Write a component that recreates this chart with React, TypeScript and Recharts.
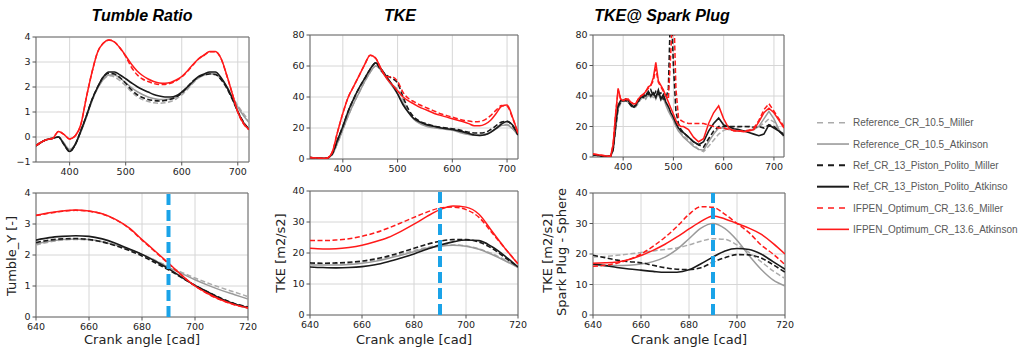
import React from "react";
import {
  CartesianGrid,
  Line,
  LineChart,
  ReferenceArea,
  ReferenceLine,
  XAxis,
  YAxis,
} from "recharts";

// series, in legend order
const SERIES = [
  { key: "a", name: "Reference_CR_10.5_Miller", color: "#ababab", dash: true, width: 1.5 },
  { key: "b", name: "Reference_CR_10.5_Atkinson", color: "#9a9a9a", dash: false, width: 1.5 },
  { key: "c", name: "Ref_CR_13_Piston_Polito_Miller", color: "#1a1a1a", dash: true, width: 1.6 },
  { key: "d", name: "Ref_CR_13_Piston_Polito_Atkinso", color: "#1a1a1a", dash: false, width: 1.6 },
  { key: "e", name: "IFPEN_Optimum_CR_13.6_Miller", color: "#ff1a1a", dash: true, width: 1.5 },
  { key: "f", name: "IFPEN_Optimum_CR_13.6_Atkinson", color: "#ff1a1a", dash: false, width: 1.5 },
];

// full cycle crank angles (top row)
const X_FULL = [
  340, 350, 360, 370, 380, 390, 400, 410, 420, 430, 440, 450, 460, 470, 480, 490, 500, 510, 520, 530,
  540, 550, 560, 570, 580, 590, 600, 610, 620, 630, 640, 650, 660, 670, 680, 690, 700, 710, 720,
];
// spark plug signal is sampled finer around the noisy part
const X_SPARK = [
  340, 350, 360, 370, 375, 380, 385, 390, 395, 400, 405, 410, 415, 420, 425, 430, 435, 440, 445, 450,
  455, 460, 465, 470, 475, 480, 485, 490, 495, 500, 505, 510, 515, 520, 530, 540, 550, 560, 570, 580,
  590, 600, 610, 620, 630, 640, 650, 660, 670, 680, 690, 700, 710, 720,
];
// zoom near TDC (bottom row)
const X_ZOOM = [640, 645, 650, 655, 660, 665, 670, 675, 680, 685, 690, 695, 700, 705, 710, 715, 720];

const TUMBLE_FULL = {
  a: [-0.35, -0.2, -0.1, -0.05, 0, -0.25, -0.5, -0.3, 0.2, 0.8, 1.45, 1.95, 2.3, 2.45, 2.4, 2.25, 2.05, 1.82, 1.62, 1.5, 1.42, 1.37, 1.35, 1.37, 1.42, 1.52, 1.68, 1.9, 2.15, 2.35, 2.47, 2.52, 2.5, 2.32, 2.02, 1.63, 1.26, 0.94, 0.66],
  b: [-0.35, -0.2, -0.1, -0.05, 0, -0.25, -0.5, -0.3, 0.2, 0.8, 1.45, 1.95, 2.3, 2.48, 2.48, 2.35, 2.17, 1.98, 1.82, 1.7, 1.6, 1.54, 1.5, 1.5, 1.53, 1.6, 1.75, 1.95, 2.18, 2.38, 2.5, 2.55, 2.52, 2.34, 2.02, 1.6, 1.2, 0.86, 0.58],
  c: [-0.35, -0.2, -0.1, -0.05, 0, -0.3, -0.58, -0.3, 0.25, 0.85, 1.5, 2.0, 2.4, 2.55, 2.52, 2.37, 2.15, 1.9, 1.7, 1.58, 1.5, 1.46, 1.44, 1.46, 1.51, 1.6, 1.76, 2.0, 2.24, 2.4, 2.48, 2.52, 2.5, 2.3, 1.97, 1.52, 1.02, 0.6, 0.32],
  d: [-0.35, -0.2, -0.1, -0.05, 0, -0.3, -0.58, -0.3, 0.25, 0.85, 1.5, 2.0, 2.4, 2.6, 2.6, 2.48, 2.33, 2.17, 2.02, 1.9, 1.8, 1.7, 1.64, 1.6, 1.6, 1.65, 1.8, 2.0, 2.22, 2.42, 2.52, 2.6, 2.6, 2.38, 2.02, 1.56, 1.02, 0.58, 0.3],
  e: [-0.35, -0.2, -0.1, -0.05, 0.22, 0.1, -0.08, 0.05, 0.5, 1.6, 2.6, 3.4, 3.75, 3.88, 3.8, 3.55, 3.22, 2.8, 2.5, 2.32, 2.22, 2.14, 2.1, 2.1, 2.15, 2.25, 2.4, 2.62, 2.88, 3.12, 3.27, 3.41, 3.41, 3.14, 2.48, 1.75, 1.0, 0.54, 0.29],
  f: [-0.35, -0.2, -0.1, -0.05, 0.22, 0.1, -0.08, 0.05, 0.5, 1.6, 2.6, 3.4, 3.75, 3.88, 3.8, 3.56, 3.25, 2.92, 2.65, 2.46, 2.32, 2.22, 2.16, 2.15, 2.18, 2.28, 2.42, 2.64, 2.9, 3.13, 3.28, 3.42, 3.42, 3.15, 2.5, 1.75, 1.0, 0.55, 0.3],
};

const TKE_FULL = {
  a: [1, 0.8, 0.5, 0.5, 2.5, 10, 19, 28, 36, 43, 50, 56, 60, 58, 53, 48, 45, 38, 31, 26, 23.5, 22, 21, 20.5, 20, 19.5, 18.8, 18, 17, 16, 15.5, 15.5, 16, 17.5, 19.5, 21.8, 22.3, 19.8, 15.5],
  b: [1, 0.8, 0.5, 0.5, 2.5, 10, 19, 28, 36, 43, 50, 56, 60, 57, 52, 47, 42, 36, 30, 25.5, 23, 21.5, 20.5, 20, 19.5, 19, 18.5, 17.5, 16.5, 15.8, 15.3, 15.2, 15.8, 17.3, 19.5, 21.7, 22, 19.5, 15.3],
  c: [1, 0.8, 0.5, 0.5, 3, 12, 21, 31, 39, 46, 52, 58, 62, 57, 54, 52, 49, 40, 32, 27, 24.5, 23, 22, 21, 20.5, 20, 19.5, 19, 18, 17.3, 16.8, 16.8, 17.2, 19, 21.5, 23.8, 24.3, 21.5, 15.5],
  d: [1, 0.8, 0.5, 0.5, 3, 12, 21, 31, 39, 46, 52, 58, 62, 58, 53, 48, 42, 35, 30, 26, 24, 22.5, 21.5, 20.8, 20, 19.5, 19, 18.3, 17.5, 16.5, 15.5, 15.2, 15.6, 17.2, 19.7, 22.6, 24.2, 22, 15.5],
  e: [1, 0.8, 0.5, 0.5, 4, 17, 29.5, 40, 47, 54, 61, 67, 65, 58, 53, 53, 50, 43, 39, 37, 35, 33.5, 32, 30.5, 29, 28, 27, 26, 25, 24.5, 24, 24.2, 25.4, 28, 31.5, 34.5, 34, 26.5, 16.5],
  f: [1, 0.8, 0.5, 0.5, 4, 17, 29.5, 40, 47, 54, 61, 67, 65, 58, 52, 48, 44, 40, 37.5, 35.5, 33.5, 32, 30.5, 29, 28, 27, 26, 25, 24, 22.8, 21.5, 21.4, 22.5, 25, 29.3, 34, 34.8, 27, 16.5],
};

const SPARK_FULL = {
  a: [1.5, 1, 0.5, 0.5, 0.5, 4, 18, 31, 35, 36, 37, 36, 34, 32, 33, 35, 38, 39, 40, 40, 41, 39, 40, 41, 38, 38, 35, 32, 28, 25, 22, 19, 16, 14, 11, 8, 5, 3.5, 7, 11, 15, 17.5, 18.5, 19, 19.5, 20, 19.5, 19, 20, 22, 25, 23, 17, 14],
  b: [1.5, 1, 0.5, 0.5, 0.5, 4, 18, 32, 36, 37, 37, 36, 34, 33, 33, 36, 38, 40, 38, 41, 39, 42, 38, 42, 37, 39, 34, 30, 27, 24, 20, 17, 15, 13, 10, 7, 5, 4.5, 10, 15, 19, 19, 18, 17.5, 17, 17, 17.5, 18, 20, 25, 30, 25, 18, 13],
  c: [1.5, 1, 0.5, 0.5, 0.5, 5, 20, 33, 36, 37, 37, 36, 34, 32, 34, 36, 40, 39, 42, 41, 44, 40, 43, 41, 42, 38, 38, 45, 105, 60, 30, 22, 18, 16, 13, 10, 8, 6.5, 12, 17, 20, 20, 20, 20, 20, 20, 20, 19.5, 20, 19, 21, 20, 17, 15],
  d: [1.5, 1, 0.5, 0.5, 0.5, 5, 22, 34, 37, 37, 38, 37, 35, 33, 34, 37, 39, 41, 40, 43, 40, 42, 39, 44, 38, 41, 36, 33, 29, 26, 22, 19, 17, 16, 13, 10, 8, 10, 17, 22, 25.5, 21, 20, 18.5, 18, 17, 16, 15, 14, 15, 21, 19, 17, 14],
  e: [2, 1.5, 1, 0.5, 0.5, 8, 28, 44, 38, 37, 38, 37, 36, 35, 35, 38, 40, 41, 43, 45, 47, 50, 58, 49, 46, 43, 40, 38, 70, 105, 45, 26, 24, 23, 22, 22, 22, 22, 21, 20, 19, 19, 18, 17.5, 17, 17, 17.5, 19, 24, 31, 35, 30, 25, 20],
  f: [2, 1.5, 1, 0.5, 0.5, 8, 28, 45, 38, 37, 38, 38, 36, 35, 35, 38, 40, 41, 43, 46, 47, 52, 62, 50, 47, 44, 40, 36, 32, 28, 24, 21, 20, 20, 18, 13, 10, 12, 22, 29, 33.5, 25, 19, 17, 17, 16.5, 17, 18, 23, 29, 32, 29, 24, 19],
};

const TUMBLE_ZOOM = {
  a: [2.32, 2.42, 2.48, 2.5, 2.48, 2.42, 2.32, 2.18, 2.02, 1.83, 1.63, 1.44, 1.26, 1.09, 0.94, 0.8, 0.66],
  b: [2.35, 2.44, 2.5, 2.52, 2.5, 2.43, 2.32, 2.18, 2.02, 1.82, 1.6, 1.4, 1.2, 1.02, 0.86, 0.72, 0.58],
  c: [2.4, 2.48, 2.52, 2.53, 2.5, 2.42, 2.3, 2.15, 1.97, 1.75, 1.52, 1.27, 1.02, 0.8, 0.6, 0.43, 0.32],
  d: [2.48, 2.56, 2.6, 2.62, 2.6, 2.52, 2.38, 2.2, 2.02, 1.8, 1.56, 1.28, 1.02, 0.8, 0.58, 0.42, 0.3],
  e: [3.27, 3.35, 3.41, 3.44, 3.41, 3.32, 3.14, 2.87, 2.48, 2.1, 1.72, 1.34, 1.0, 0.74, 0.54, 0.39, 0.29],
  f: [3.28, 3.36, 3.42, 3.45, 3.42, 3.33, 3.15, 2.88, 2.5, 2.12, 1.74, 1.35, 1.0, 0.75, 0.55, 0.4, 0.3],
};

const TKE_ZOOM = {
  a: [16.6, 16.5, 16.5, 16.7, 17.1, 17.7, 18.6, 19.6, 20.8, 21.8, 22.5, 22.6, 22.3, 21.3, 19.8, 17.8, 15.6],
  b: [16.2, 16.1, 16.1, 16.3, 16.7, 17.3, 18.2, 19.3, 20.4, 21.5, 22.2, 22.5, 22.2, 21.2, 19.5, 17.5, 15.3],
  c: [16.8, 16.7, 16.8, 17, 17.4, 18.1, 19, 20.2, 21.5, 22.8, 23.8, 24.3, 24.3, 23.5, 21.5, 18.5, 15.5],
  d: [15.5, 15.3, 15.2, 15.3, 15.6, 16.2, 17.2, 18.4, 19.7, 21.2, 22.6, 23.6, 24.2, 24, 22, 19, 15.5],
  e: [24, 24, 24.2, 24.6, 25.4, 26.5, 28, 29.7, 31.5, 33.2, 34.5, 34.8, 34, 31.5, 26.5, 21.5, 16.5],
  f: [21.5, 21.3, 21.4, 21.8, 22.5, 23.6, 25, 27, 29.3, 31.8, 34, 35.2, 34.8, 32.5, 27, 21.5, 16.5],
};

const SPARK_ZOOM = {
  a: [19, 19.2, 19.6, 20, 20.5, 21, 21.5, 22, 23, 24.2, 25, 24.8, 23, 20.5, 17.5, 14.5, 12],
  b: [16.5, 16.2, 16.2, 16.3, 16.7, 17.5, 19, 21.5, 25, 28.5, 30, 28.3, 24.5, 19.5, 15, 11.5, 9.5],
  c: [19.6, 18.8, 18, 17.5, 17.1, 16.3, 15.5, 15, 14.9, 15.5, 17.3, 18.8, 19.8, 19.7, 18.7, 16.5, 14],
  d: [16.7, 16.2, 15.6, 15.1, 14.7, 14.3, 14, 14, 14.8, 16.8, 19, 21, 21.8, 21.5, 20, 17.5, 15],
  e: [16, 16.3, 17, 18.2, 20, 22.5, 25.5, 29, 33, 35.5, 35.3, 33, 30, 27, 23, 20, 16.5],
  f: [17, 17.1, 17.4, 18.2, 19.5, 21.2, 23.2, 25.6, 28.2, 30.7, 32.5, 31.5, 30, 28.5, 26.5, 23.5, 20],
};

const X_TICKS_FULL = [400, 500, 600, 700];
const X_TICKS_ZOOM = [640, 660, 680, 700, 720];
const Y_TICKS_TUMBLE_FULL = [-1, 0, 1, 2, 3, 4];
const Y_TICKS_TUMBLE_ZOOM = [0, 1, 2, 3, 4];
const Y_TICKS_TKE_FULL = [0, 20, 40, 60, 80];
const Y_TICKS_TKE_ZOOM = [0, 10, 20, 30, 40];
const SPARK_TIMING = 690;

type Row = { [k: string]: number };

function rows(xs: number[], series: { [k: string]: number[] }): Row[] {
  return xs.map((x, i) => {
    const r: Row = { x };
    SERIES.forEach((s) => {
      r[s.key] = series[s.key][i];
    });
    return r;
  });
}

const TICK = { fontSize: 9.5, fill: "#222", fontFamily: "DejaVu Sans" };
const fmt = (v: number) => (v < 0 ? "\u2212" + Math.abs(v) : String(v));

type Box = { left: number; top: number; w: number; h: number };

function Panel({
  box,
  data,
  xDomain,
  xTicks,
  yDomain,
  yTicks,
  curve,
  marker,
}: {
  box: Box;
  data: Row[];
  xDomain: [number, number];
  xTicks: number[];
  yDomain: [number, number];
  yTicks: number[];
  curve: "monotone" | "linear";
  marker?: boolean;
}) {
  // plot area sits exactly on box; the margins only leave room for the edge labels
  const YW = 34;
  const MT = 9;
  const MR = 14;
  const XH = 19;
  return (
    <div style={{ position: "absolute", left: box.left - YW, top: box.top - MT }}>
      <LineChart
        width={YW + box.w + MR}
        height={MT + box.h + XH}
        data={data}
        margin={{ top: MT, right: MR, bottom: 0, left: 0 }}
      >
        <CartesianGrid stroke="#d6d6d6" />
        <XAxis
          type="number"
          dataKey="x"
          domain={xDomain}
          ticks={xTicks}
          interval={0}
          allowDataOverflow
          axisLine={false}
          tickLine={{ stroke: "#555" }}
          tickSize={3.5}
          tickMargin={2.5}
          height={XH}
          tick={TICK}
        />
        <YAxis
          type="number"
          domain={yDomain}
          ticks={yTicks}
          interval={0}
          allowDataOverflow
          axisLine={false}
          tickLine={{ stroke: "#555" }}
          tickSize={3.5}
          tickMargin={2}
          width={YW}
          tick={TICK}
          tickFormatter={fmt}
        />
        {SERIES.map((s) => (
          <Line
            key={s.key}
            dataKey={s.key}
            name={s.name}
            type={curve}
            stroke={s.color}
            strokeWidth={s.width}
            strokeDasharray={s.dash ? "5 2.5" : undefined}
            dot={false}
            activeDot={false}
            isAnimationActive={false}
          />
        ))}
        <ReferenceArea
          x1={xDomain[0]}
          x2={xDomain[1]}
          y1={yDomain[0]}
          y2={yDomain[1]}
          fill="none"
          stroke="#6b6b6b"
          strokeWidth={1}
        />
        {marker && (
          <ReferenceLine
            x={SPARK_TIMING}
            stroke="#1aa3e8"
            strokeWidth={4}
            strokeDasharray="11 5"
          />
        )}
      </LineChart>
    </div>
  );
}

const TITLE = {
  fontFamily: "Liberation Sans, Arial, sans-serif",
  fontSize: 16,
  fontWeight: 700,
  fontStyle: "italic",
  fill: "#000",
};
const LABEL = { fontFamily: "DejaVu Sans", fontSize: 13, fill: "#222" };

export default function App() {
  return (
    <div
      style={{
        position: "absolute",
        left: 0,
        top: 0,
        width: 1024,
        height: 355,
        background: "#fff",
        overflow: "hidden",
      }}
    >
      <Panel box={{ left: 36, top: 37, w: 213, h: 125 }} data={rows(X_FULL, TUMBLE_FULL)}
        xDomain={[340, 720]} xTicks={X_TICKS_FULL} yDomain={[-1, 4]} yTicks={Y_TICKS_TUMBLE_FULL} curve="monotone" />
      <Panel box={{ left: 310, top: 35, w: 208, h: 124 }} data={rows(X_FULL, TKE_FULL)}
        xDomain={[340, 720]} xTicks={X_TICKS_FULL} yDomain={[0, 80]} yTicks={Y_TICKS_TKE_FULL} curve="monotone" />
      <Panel box={{ left: 593, top: 35, w: 191, h: 122 }} data={rows(X_SPARK, SPARK_FULL)}
        xDomain={[340, 720]} xTicks={X_TICKS_FULL} yDomain={[0, 80]} yTicks={Y_TICKS_TKE_FULL} curve="linear" />
      <Panel box={{ left: 36, top: 193, w: 212, h: 124 }} data={rows(X_ZOOM, TUMBLE_ZOOM)}
        xDomain={[640, 720]} xTicks={X_TICKS_ZOOM} yDomain={[0, 4]} yTicks={Y_TICKS_TUMBLE_ZOOM} curve="monotone" marker />
      <Panel box={{ left: 310, top: 191, w: 208, h: 124 }} data={rows(X_ZOOM, TKE_ZOOM)}
        xDomain={[640, 720]} xTicks={X_TICKS_ZOOM} yDomain={[0, 40]} yTicks={Y_TICKS_TKE_ZOOM} curve="monotone" marker />
      <Panel box={{ left: 593, top: 193, w: 192, h: 122 }} data={rows(X_ZOOM, SPARK_ZOOM)}
        xDomain={[640, 720]} xTicks={X_TICKS_ZOOM} yDomain={[0, 40]} yTicks={Y_TICKS_TKE_ZOOM} curve="monotone" marker />

      <svg width={1024} height={355} style={{ position: "absolute", left: 0, top: 0, pointerEvents: "none" }}>
        <text x={142} y={21} textAnchor="middle" style={TITLE}>Tumble Ratio</text>
        <text x={400} y={21} textAnchor="middle" style={TITLE}>TKE</text>
        <text x={662} y={21} textAnchor="middle" style={TITLE}>TKE@ Spark Plug</text>

        <text x={142} y={344} textAnchor="middle" style={LABEL}>Crank angle [cad]</text>
        <text x={414} y={344} textAnchor="middle" style={LABEL}>Crank angle [cad]</text>
        <text x={689} y={344} textAnchor="middle" style={LABEL}>Crank angle [cad]</text>

        <text x={15.5} y={256} textAnchor="middle" transform="rotate(-90 15.5 256)" style={LABEL}>Tumble_Y [-]</text>
        <text x={285} y={253} textAnchor="middle" transform="rotate(-90 285 253)" style={LABEL}>TKE [m2/s2]</text>
        <text x={552} y={253} textAnchor="middle" transform="rotate(-90 552 253)" style={LABEL}>TKE [m2/s2]</text>
        <text x={566} y={252} textAnchor="middle" transform="rotate(-90 566 252)" style={LABEL}>Spark Plug - Sphere</text>

        {SERIES.map((s, i) => {
          const y = 122.7 + i * 21.33;
          return (
            <g key={s.key}>
              <line x1={817} x2={849} y1={y} y2={y} stroke={s.color}
                strokeWidth={s.key === "c" || s.key === "d" ? 2 : 1.6}
                strokeDasharray={s.dash ? "6 5" : undefined} />
              <text x={853} y={y} dy="0.35em"
                style={{ fontFamily: "Liberation Sans, Arial, sans-serif", fontSize: 10, fill: "#595959" }}>
                {s.name}
              </text>
            </g>
          );
        })}
      </svg>
    </div>
  );
}
